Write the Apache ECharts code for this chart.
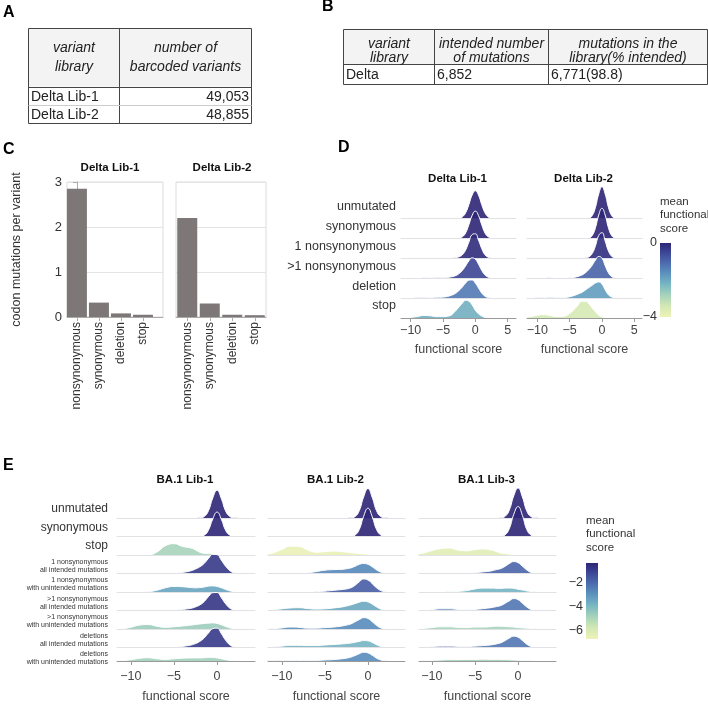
<!DOCTYPE html>
<html>
<head>
<meta charset="utf-8">
<script src="https://cdn.jsdelivr.net/npm/echarts@6/dist/echarts.min.js"></script>
<style>
  html, body { margin: 0; padding: 0; background: #fff; }
  #chart { width: 708px; height: 704px; }
</style>
</head>
<body>
<div id="chart"></div>
<script>
// ---------- data ----------
const tableAHeader = ['variant\nlibrary', 'number of\nbarcoded variants'];
const tableALibs = ['Delta Lib-1', 'Delta Lib-2'];
const tableACounts = ['49,053', '48,855'];

const tableBHeader = ['variant\nlibrary', 'intended number\nof mutations', 'mutations in the\nlibrary(% intended)'];
const tableBRow = ['Delta', '6,852', '6,771(98.8)'];

const mutTypes = ['nonsynonymous', 'synonymous', 'deletion', 'stop'];
const deltaLib1Muts = [2.85, 0.32, 0.08, 0.05];
const deltaLib2Muts = [2.2, 0.3, 0.05, 0.04];

// functional score points where the densities were read
const scorePts = [-12,-11,-10,-9,-8, -7,-6,-5,-4,-3, -2.5,-2,-1.5,-1,-0.5, 0,0.5,1,1.5,2, 2.5,3,4,5,6];

const deltaRows = ['unmutated', 'synonymous', '1 nonsynonymous', '>1 nonsynonymous', 'deletion', 'stop'];
const deltaLib1Mean = [0, 0, -0.1, -0.5, -1.3, -2.1];
const deltaLib2Mean = [0, 0, -0.15, -0.95, -1.8, -3.5];
const deltaLib1Density = [
  [0,0,0,0,.01, .01,0,0,0,.005, .015,.065,.21,.5,.84, 1,.84,.5,.21,.065, .015,.003,0,0,0],
  [0,0,0,0,.01, .01,0,0,0,.005, .015,.064,.2,.49,.82, .98,.82,.49,.2,.064, .015,.003,0,0,0],
  [0,0,0,0,.01, .01,.01,.01,.01,.03, .06,.13,.3,.58,.85, .88,.65,.35,.13,.04, .01,0,0,0,0],
  [0,0,0,0,.02, .03,.02,.02,.04,.1, .17,.28,.44,.62,.73, .68,.5,.28,.12,.04, .01,0,0,0,0],
  [0,0,0,.01,.02, .02,.03,.04,.08,.18, .28,.4,.54,.64,.65, .54,.36,.18,.07,.02, 0,0,0,0,0],
  [0,0,.02,.05,.09, .08,.05,.05,.08,.27, .4,.53,.63,.6,.47, .28,.15,.07,.02,0, 0,0,0,0,0]
];
const deltaLib2Density = [
  [0,0,0,0,0, 0,0,0,0,0, .003,.02,.115,.41,.88, 1.14,.88,.41,.115,.02, .003,0,0,0,0],
  [0,0,0,0,0, 0,0,0,0,0, .003,.02,.11,.39,.84, 1.08,.84,.39,.11,.02, .003,0,0,0,0],
  [0,0,0,0,0, 0,0,0,0,.01, .02,.06,.18,.45,.82, .92,.62,.27,.08,.015, 0,0,0,0,0],
  [0,0,0,.01,.02, .01,.01,.02,.05,.13, .21,.32,.47,.65,.78, .72,.45,.2,.06,.01, 0,0,0,0,0],
  [0,0,.01,.02,.03, .02,.02,.05,.12,.22, .3,.38,.46,.54,.58, .5,.3,.12,.04,.01, 0,0,0,0,0],
  [.01,.05,.1,.12,.09, .05,.06,.16,.38,.6, .6,.5,.36,.22,.1, .04,.01,0,0,0, 0,0,0,0,0]
];

const ba1Rows = ['unmutated', 'synonymous', 'stop',
  '1 nonsynonymous\nall intended mutations', '1 nonsynonymous\nwith unintended mutations',
  '>1 nonsynonymous\nall intended mutations', '>1 nonsynonymous\nwith unintended mutations',
  'deletions\nall intended mutations', 'deletions\nwith unintended mutations'];
const ba1Lib1Mean = [0, 0, -4.8, -0.8, -3.4, -0.7, -4.6, -0.8, -4.7];
const ba1Lib2Mean = [0, 0, -6.5, -2.7, -1.7, -3.5, -2.8, -3.8, -2.8];
const ba1Lib3Mean = [0, 0, -6.2, -1.9, -3.8, -2.3, -4.8, -2.3, -4.8];
const ba1Lib1Density = [
  [0,0,0,0,0, 0,0,0,0,0, 0,.005,.05,.26,.72, 1,.7,.25,.05,.005, 0,0,0,0,0],
  [0,0,0,0,0, 0,0,0,0,0, 0,.004,.045,.23,.63, .88,.62,.22,.045,.004, 0,0,0,0,0],
  [0,0,0,0,0, .1,.33,.41,.31,.25, .18,.1,.06,.05,.04, .03,.01,0,0,0, 0,0,0,0,0],
  [0,0,0,0,0, .01,.01,.02,.04,.1, .16,.24,.36,.54,.69, .68,.48,.26,.1,.02, 0,0,0,0,0],
  [0,0,0,0,.01, .06,.15,.2,.19,.16, .15,.16,.18,.21,.22, .2,.15,.09,.04,.01, 0,0,0,0,0],
  [0,0,0,0,.02, .01,.01,.02,.04,.08, .13,.2,.32,.5,.64, .65,.46,.24,.08,.02, 0,0,0,0,0],
  [0,.01,.06,.14,.16, .1,.06,.08,.11,.14, .16,.18,.2,.21,.22, .2,.15,.09,.04,.01, 0,0,0,0,0],
  [0,0,0,0,.01, .01,.01,.02,.04,.09, .14,.22,.34,.52,.68, .7,.5,.26,.09,.02, 0,0,0,0,0],
  [0,.02,.06,.13,.16, .11,.08,.11,.14,.15, .15,.15,.16,.17,.17, .15,.11,.06,.03,.01, 0,0,0,0,0]
];
const ba1Lib2Density = [
  [0,0,0,0,0, 0,0,0,0,0, 0,.005,.05,.27,.76, 1.06,.74,.26,.05,.005, 0,0,0,0,0],
  [0,0,0,0,0, 0,0,0,0,0, 0,.005,.05,.26,.73, 1.02,.71,.25,.05,.005, 0,0,0,0,0],
  [.01,.08,.2,.32,.31, .18,.1,.12,.14,.12, .1,.08,.07,.05,.04, .03,.02,.01,0,0, 0,0,0,0,0],
  [0,0,0,0,0, .02,.07,.12,.14,.15, .17,.2,.26,.33,.36, .33,.24,.13,.05,.01, 0,0,0,0,0],
  [0,0,0,0,0, 0,.01,.03,.06,.09, .11,.15,.24,.37,.47, .43,.3,.15,.05,.01, 0,0,0,0,0],
  [0,.02,.06,.09,.1, .07,.05,.06,.09,.13, .16,.2,.25,.3,.33, .31,.23,.13,.05,.01, 0,0,0,0,0],
  [0,.01,.04,.07,.06, .03,.03,.05,.07,.11, .14,.18,.26,.34,.41, .38,.26,.13,.04,.01, 0,0,0,0,0],
  [0,.02,.05,.08,.08, .07,.07,.09,.11,.13, .14,.16,.19,.22,.25, .24,.18,.1,.04,.01, 0,0,0,0,0],
  [0,.01,.02,.03,.03, .03,.03,.05,.07,.11, .14,.19,.27,.36,.43, .4,.28,.14,.05,.01, 0,0,0,0,0]
];
const ba1Lib3Density = [
  [0,0,0,0,0, 0,0,0,0,0, 0,.006,.06,.3,.8, 1.08,.76,.26,.05,.005, 0,0,0,0,0],
  [0,0,0,0,0, 0,0,0,0,0, 0,.006,.06,.3,.8, 1.08,.76,.26,.05,.005, 0,0,0,0,0],
  [.02,.07,.16,.23,.25, .18,.15,.2,.22,.17, .12,.07,.05,.03,.02, .02,.01,0,0,0, 0,0,0,0,0],
  [0,0,0,0,0, .01,.02,.03,.06,.1, .14,.18,.26,.36,.43, .39,.26,.13,.04,.01, 0,0,0,0,0],
  [0,0,0,0,.01, .02,.05,.11,.14,.14, .13,.13,.14,.14,.13, .1,.07,.04,.02,.01, 0,0,0,0,0],
  [0,.01,.03,.06,.06, .04,.03,.04,.07,.11, .14,.18,.26,.35,.43, .39,.26,.13,.04,.01, 0,0,0,0,0],
  [.01,.02,.05,.08,.08, .06,.05,.07,.07,.09, .1,.1,.09,.08,.07, .05,.04,.03,.02,.01, 0,0,0,0,0],
  [0,.01,.03,.05,.05, .04,.03,.05,.07,.1, .13,.17,.25,.34,.41, .37,.25,.12,.04,.01, 0,0,0,0,0],
  [0,.01,.03,.05,.07, .07,.08,.08,.09,.08, .08,.07,.07,.06,.05, .04,.03,.02,.01,0, 0,0,0,0,0]
];

const deltaTicks = [-10, -5, 0, 5];
const ba1Ticks = [-10, -5, 0];
const deltaBarTicks = [0, -4];
const ba1BarTicks = [-2, -4, -6];

// ---------- helpers ----------
const FONT = 'Liberation Sans, Arial, Helvetica, sans-serif';
const cmapStops = [[0,'#eef3b6'],[0.15,'#d2e8b5'],[0.3,'#a5d2bb'],[0.45,'#75b5c2'],[0.6,'#5a8fbd'],[0.75,'#4b66ab'],[0.88,'#3b4494'],[1,'#2d2675']];
function hex(c) { return [1,3,5].map(i => parseInt(c.slice(i, i + 2), 16)); }
function cmap(t) {
  t = Math.max(0, Math.min(1, t));
  for (let i = 1; i < cmapStops.length; i++) {
    if (t <= cmapStops[i][0]) {
      const a = hex(cmapStops[i-1][1]), b = hex(cmapStops[i][1]);
      const f = (t - cmapStops[i-1][0]) / (cmapStops[i][0] - cmapStops[i-1][0]);
      return 'rgb(' + a.map((v, k) => Math.round(v + (b[k] - v) * f)).join(',') + ')';
    }
  }
  return cmapStops[cmapStops.length - 1][1];
}
const minus = v => String(v).replace('-', '\u2212');
function txt(x, y, text, o) {
  o = o || {};
  return { type: 'text', x: x, y: y, silent: true, z: 100, style: {
    text: text, fill: o.color || '#222', fontSize: o.size || 12, fontFamily: FONT,
    fontWeight: o.weight || 'normal', fontStyle: o.style || 'normal',
    align: o.align || 'left', verticalAlign: o.valign || 'middle', lineHeight: o.lh } };
}
function rect(x, y, w, h, style) { return { type: 'rect', silent: true, z: 90, shape: { x: x, y: y, width: w, height: h }, style: style }; }
function hline(x1, x2, y, c) { return { type: 'line', silent: true, z: 95, shape: { x1: x1, y1: y, x2: x2, y2: y }, style: { stroke: c, lineWidth: 1 } }; }
function vline(x, y1, y2, c) { return { type: 'line', silent: true, z: 95, shape: { x1: x, y1: y1, x2: x, y2: y2 }, style: { stroke: c, lineWidth: 1 } }; }

const grids = [], xAxes = [], yAxes = [], series = [], gfx = [];

// ---------- panel letters ----------
[['A', 3, 13], ['B', 322, 7], ['C', 3, 150], ['D', 338, 148], ['E', 3, 466]].forEach(l =>
  gfx.push(txt(l[1], l[2], l[0], { size: 16, weight: 'bold', color: '#000' })));

// ---------- table A ----------
gfx.push(rect(28.5, 28.5, 223, 58, { fill: '#f3f3f3' }));
gfx.push(rect(28.5, 28.5, 223, 95, { fill: 'none', stroke: '#444', lineWidth: 1 }));
gfx.push(vline(119.5, 28.5, 123.5, '#444'));
gfx.push(hline(28.5, 251.5, 87.5, '#444'));
gfx.push(hline(28.5, 251.5, 105.5, '#ccc'));
gfx.push(txt(74, 58, tableAHeader[0], { size: 14, style: 'italic', align: 'center', lh: 19 }));
gfx.push(txt(185.5, 58, tableAHeader[1], { size: 14, style: 'italic', align: 'center', lh: 19 }));
tableALibs.forEach((lib, i) => {
  gfx.push(txt(31, 97 + i * 18, lib, { size: 14 }));
  gfx.push(txt(249, 97 + i * 18, tableACounts[i], { size: 14, align: 'right' }));
});

// ---------- table B ----------
const bCols = [343.5, 434.5, 548.5, 707.5];
gfx.push(rect(343.5, 29.5, 364, 35, { fill: '#f3f3f3' }));
gfx.push(rect(343.5, 29.5, 364, 55, { fill: 'none', stroke: '#444', lineWidth: 1 }));
gfx.push(vline(434.5, 29.5, 84.5, '#444'));
gfx.push(vline(548.5, 29.5, 84.5, '#444'));
gfx.push(hline(343.5, 707.5, 64.5, '#444'));
tableBHeader.forEach((h, i) => gfx.push(txt((bCols[i] + bCols[i + 1]) / 2, 51, h, { size: 14, style: 'italic', align: 'center', lh: 14.5 })));
tableBRow.forEach((v, i) => gfx.push(txt(bCols[i] + 2.5, 75, v, { size: 14 })));

// ---------- panel C : bars ----------
const barPanels = [
  { left: 67, width: 96, min: -0.45, max: 3.91, vals: deltaLib1Muts, title: 'Delta Lib-1', yLabels: true },
  { left: 176, width: 90, min: -0.5, max: 3.5, vals: deltaLib2Muts, title: 'Delta Lib-2', yLabels: false }
];
barPanels.forEach(p => {
  const g = grids.length;
  grids.push({ left: p.left, top: 182, width: p.width, height: 135, show: true, borderColor: '#dcdcdc', borderWidth: 1, backgroundColor: 'transparent' });
  xAxes.push({ gridIndex: g, type: 'value', min: p.min, max: p.max,
    axisLine: { show: true, onZero: false, lineStyle: { color: '#aaa' } },
    axisTick: { show: true, customValues: [0, 1, 2, 3], length: 4, lineStyle: { color: '#aaa' } },
    axisLabel: { customValues: [0, 1, 2, 3], rotate: 90, formatter: v => mutTypes[v], fontSize: 12, color: '#333', fontFamily: FONT, margin: 5 },
    splitLine: { show: false } });
  yAxes.push({ gridIndex: g, type: 'value', min: 0, max: 3, interval: 1,
    axisLine: { show: p.yLabels, lineStyle: { color: '#aaa' } },
    axisTick: { show: p.yLabels, length: 4, lineStyle: { color: '#aaa' } },
    axisLabel: { show: p.yLabels, fontSize: 13, color: '#333', fontFamily: FONT, margin: 5 },
    splitLine: { show: true, lineStyle: { color: '#e4e4e4' } },
    name: p.yLabels ? 'codon mutations per variant' : '', nameLocation: 'middle', nameGap: 44,
    nameTextStyle: { fontSize: 12.5, color: '#333', fontFamily: FONT } });
  series.push({ type: 'bar', xAxisIndex: g, yAxisIndex: g, barWidth: 20, silent: true,
    itemStyle: { color: '#7d7777' }, data: p.vals.map((v, i) => [i, v]) });
  gfx.push(txt(p.left + (p.yLabels ? 43 : 46), 168, p.title, { size: 11.5, weight: 'bold', align: 'center', color: '#111' }));
});

// ---------- panels D and E : ridgelines ----------
const ridgePanels = [
  { left: 401, width: 115, top: 198.85, step: 19.86, unit: 28, min: -11.5, max: 6.3, ticks: deltaTicks, margin: 6, gap: 25,
    rows: deltaRows, dens: deltaLib1Density, mean: deltaLib1Mean, cmin: -4, cmax: 0, title: 'Delta Lib-1', labels: true },
  { left: 527, width: 115, top: 198.85, step: 19.86, unit: 28, min: -11.6, max: 6.2, ticks: deltaTicks, margin: 6, gap: 25,
    rows: deltaRows, dens: deltaLib2Density, mean: deltaLib2Mean, cmin: -4, cmax: 0, title: 'Delta Lib-2', labels: false },
  { left: 117, width: 138, top: 499.5, step: 18.5, unit: 27.7, min: -11.6, max: 4.4, ticks: ba1Ticks, margin: 9, gap: 29,
    rows: ba1Rows, dens: ba1Lib1Density, mean: ba1Lib1Mean, cmin: -6.67, cmax: -0.33, title: 'BA.1 Lib-1', labels: true },
  { left: 268, width: 137, top: 499.5, step: 18.5, unit: 27.7, min: -11.6, max: 4.3, ticks: ba1Ticks, margin: 9, gap: 29,
    rows: ba1Rows, dens: ba1Lib2Density, mean: ba1Lib2Mean, cmin: -6.67, cmax: -0.33, title: 'BA.1 Lib-2', labels: false },
  { left: 419, width: 137, top: 499.5, step: 18.5, unit: 27.7, min: -11.5, max: 4.4, ticks: ba1Ticks, margin: 9, gap: 29,
    rows: ba1Rows, dens: ba1Lib3Density, mean: ba1Lib3Mean, cmin: -6.67, cmax: -0.33, title: 'BA.1 Lib-3', labels: false }
];
ridgePanels.forEach(p => {
  const n = p.rows.length;
  gfx.push(txt(p.left + p.width / 2 - 1, p.top - 20, p.title, { size: 11.5, weight: 'bold', align: 'center', color: '#111' }));
  p.rows.forEach((row, i) => {
    const g = grids.length, last = i === n - 1;
    const top = p.top + i * p.step, base = top + p.step;
    grids.push({ left: p.left, top: top, width: p.width, height: p.step });
    xAxes.push({ gridIndex: g, type: 'value', min: p.min, max: p.max, z: 4 + 2 * i,
      axisLine: { show: true, onZero: false, lineStyle: { color: last ? '#9a9a9a' : '#e1e1e6', width: 1 } },
      axisTick: { show: last, customValues: p.ticks, length: 4, lineStyle: { color: '#9a9a9a' } },
      axisLabel: { show: last, customValues: p.ticks, formatter: minus, fontSize: 12.5, color: '#444', fontFamily: FONT, margin: p.margin },
      splitLine: { show: false },
      name: last ? 'functional score' : '', nameLocation: 'middle', nameGap: p.gap,
      nameTextStyle: { fontSize: 12.5, color: '#444', fontFamily: FONT, verticalAlign: 'top' } });
    yAxes.push({ gridIndex: g, type: 'value', min: 0, max: p.step / p.unit, show: false });
    series.push({ type: 'line', xAxisIndex: g, yAxisIndex: g, silent: true, clip: false,
      smooth: 0.5, symbol: 'none', z: 3 + 2 * i,
      lineStyle: { color: '#fff', width: 1 },
      areaStyle: { color: cmap((p.mean[i] - p.cmin) / (p.cmax - p.cmin)), opacity: 0.9 },
      data: scorePts.map((x, k) => [x, p.dens[i][k]]) });
    if (p.labels) {
      const small = row.indexOf('\n') >= 0;
      if (p.step > 19) gfx.push(txt(p.left - 5, base - 12, row, { size: 12.5, align: 'right', color: '#333' }));
      else if (small) gfx.push(txt(p.left - 9, base - 7.5, row, { size: 7, align: 'right', color: '#333', lh: 8 }));
      else gfx.push(txt(p.left - 9, base - 9, row, { size: 12, align: 'right', color: '#333' }));
    }
  });
});

// ---------- colour bars ----------
function colorBar(x, y, w, h, cmin, cmax, ticks, titleY) {
  const stops = [];
  for (let k = 0; k <= 20; k++) stops.push({ offset: k / 20, color: cmap(1 - k / 20) });
  gfx.push(rect(x, y, w, h, { fill: new echarts.graphic.LinearGradient(0, 0, 0, 1, stops) }));
  ticks.forEach(v => gfx.push(txt(x - 3, y + (cmax - v) / (cmax - cmin) * h, minus(v), { size: 12.5, align: 'right', color: '#333' })));
  gfx.push(txt(x, titleY, 'mean\nfunctional\nscore', { size: 11.5, color: '#333', valign: 'top', lh: 13.5 }));
}
colorBar(660, 243, 11, 74, -4, 0, deltaBarTicks, 195);
colorBar(586, 563, 12, 76, -6.67, -0.33, ba1BarTicks, 514);

const chart = echarts.init(document.getElementById('chart'), null, { renderer: 'canvas' });
chart.setOption({
  animation: false,
  backgroundColor: '#fff',
  textStyle: { fontFamily: FONT },
  grid: grids,
  xAxis: xAxes,
  yAxis: yAxes,
  series: series,
  graphic: { elements: gfx }
});
</script>
</body>
</html>
